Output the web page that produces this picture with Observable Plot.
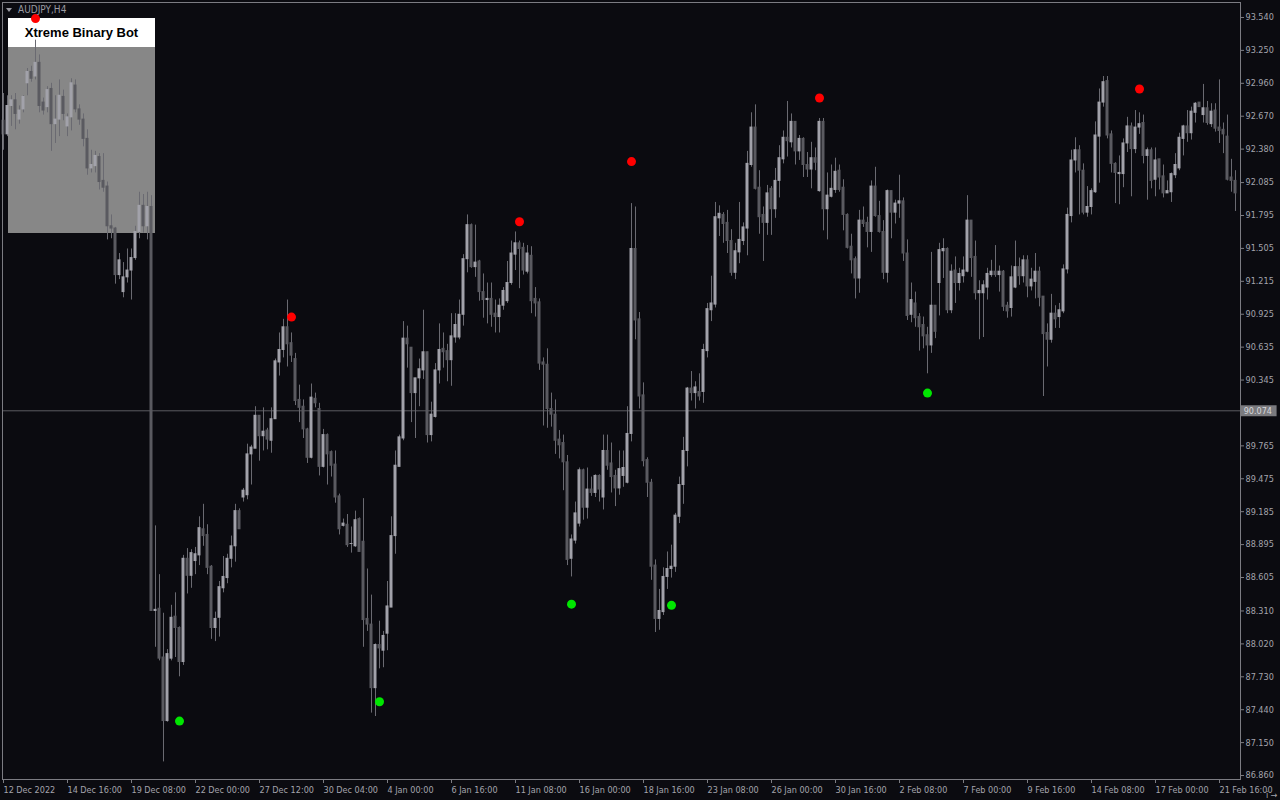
<!DOCTYPE html>
<html>
<head>
<meta charset="utf-8">
<script src="https://cdn.jsdelivr.net/npm/d3@7"></script>
<script src="https://cdn.jsdelivr.net/npm/@observablehq/plot@0.6"></script>
<style>
  html, body { margin: 0; padding: 0; background: #0b0b10; }
  #wrap { position: relative; width: 1280px; height: 800px; background: #0b0b10; overflow: hidden; }
  #wrap svg { position: absolute; left: 0; top: 0; z-index: 2; }
  .boxhead { position: absolute; left: 8px; top: 18px; width: 147px; height: 29px; background: #ffffff; z-index: 1;
    font: bold 13px "Liberation Sans", Arial, sans-serif; color: #000; text-align: center; line-height: 29px; }
  .boxbody { position: absolute; left: 8px; top: 47px; width: 147px; height: 186px; background: #878787; z-index: 1; }
  .title { position: absolute; left: 6px; top: 4px; z-index: 3; font: 10px "DejaVu Sans Condensed", "DejaVu Sans", sans-serif; color: #9a9aa2; }
  .tri { display: inline-block; width: 0; height: 0; border-left: 3px solid transparent; border-right: 3px solid transparent; border-top: 4px solid #9a9aa2; margin-right: 6px; vertical-align: 1px; }
</style>
</head>
<body>
<div id="wrap">
  <div class="title"><span class="tri"></span>AUDJPY,H4</div>
  <div class="boxhead">Xtreme Binary Bot</div>
  <div class="boxbody"></div>
</div>
<script>
// AUDJPY H4 candles, 12 Dec 2022 – 22 Feb 2023
const openP = [
92.63,92.51,92.76,92.81,92.64,92.73,92.96,93.06,93.02,93.14,
92.79,92.75,92.91,92.60,92.64,92.84,92.58,92.66,92.94,92.73,
92.64,92.47,92.21,92.23,92.31,92.10,92.05,91.70,91.68,91.27,
91.12,91.25,91.31,91.42,91.65,91.88,91.70,91.87,88.31,88.33,
87.90,87.34,87.89,88.26,88.16,87.86,88.77,88.62,88.75,88.80,
89.03,88.98,88.70,88.16,88.25,88.51,88.60,88.77,88.88,89.19,
89.31,89.33,89.69,89.74,90.03,89.85,89.90,89.81,90.00,90.50,
90.61,90.81,90.67,90.53,90.17,90.11,89.91,89.66,90.18,90.09,
89.58,89.86,89.71,89.60,89.32,89.06,89.07,88.90,88.88,89.12,
88.92,88.24,88.19,87.63,88.01,87.96,88.11,88.34,88.97,89.58,
89.83,90.71,90.63,90.23,90.36,90.43,90.59,89.86,90.02,90.43,
90.62,90.60,90.52,90.72,90.72,90.92,91.41,91.71,91.34,91.39,
91.12,91.05,91.06,90.93,90.90,91.00,91.04,91.20,91.45,91.55,
91.51,91.30,91.44,91.06,91.03,90.50,90.48,90.09,90.04,89.82,
89.79,89.62,88.77,88.93,89.08,89.55,89.22,89.38,89.35,89.50,
89.31,89.72,89.61,89.50,89.39,89.50,89.44,89.87,91.50,90.88,
90.21,89.64,89.44,88.71,88.24,88.30,88.61,88.68,88.70,89.14,
89.42,89.72,90.27,90.23,90.24,90.24,90.60,90.96,91.01,91.77,
91.80,91.73,91.57,91.29,91.47,91.57,91.68,92.24,92.57,92.04,
91.80,91.73,92.03,91.85,92.10,92.29,92.48,92.44,92.62,92.36,
92.47,92.24,92.20,92.30,92.01,92.62,91.85,91.96,92.02,92.19,
92.04,91.80,91.52,91.41,91.24,91.75,91.73,91.65,92.05,91.79,
91.65,91.29,92.01,91.82,91.90,91.92,91.46,90.92,91.02,90.90,
90.83,90.74,90.65,91.00,91.20,91.48,91.50,90.96,91.31,91.20,
91.26,91.30,91.75,91.43,91.11,91.11,91.16,91.27,91.30,91.27,
91.30,91.00,90.98,91.16,91.34,91.26,91.40,91.17,91.21,91.30,
91.08,90.76,90.70,90.93,90.90,90.95,91.32,91.79,92.28,92.37,
92.19,91.82,91.87,92.00,92.49,92.79,92.98,92.51,92.25,92.16,
92.16,92.43,92.58,92.38,92.57,92.61,92.32,92.37,92.11,92.29,
92.14,91.99,92.00,92.15,92.21,92.47,92.58,92.52,92.70,92.79,
92.68,92.74,92.60,92.72,92.57,92.55,92.49,92.13,92.10];

const highP = [
92.87,92.85,92.85,92.87,92.76,92.85,93.09,93.11,93.34,93.21,
92.83,92.93,92.96,92.85,92.99,92.90,92.69,93.00,92.99,92.77,
92.69,92.55,92.37,92.36,92.34,92.34,92.09,91.80,91.69,91.46,
91.38,91.50,91.50,91.70,92.00,91.98,92.00,91.97,89.06,88.63,
88.29,87.97,88.36,88.47,88.17,88.80,88.86,88.85,88.87,89.14,
89.25,89.07,88.71,88.30,88.57,88.79,88.81,88.97,89.25,89.21,
89.39,89.78,89.77,90.11,90.03,90.10,89.92,90.10,90.53,90.76,
90.88,91.05,90.76,90.58,90.30,90.17,89.92,90.31,90.23,90.14,
89.91,89.87,89.72,89.72,89.34,89.12,89.16,89.05,89.19,89.13,
89.30,88.68,88.45,88.02,88.22,88.13,88.57,89.14,89.72,89.86,
90.86,90.82,90.63,90.36,90.53,90.96,90.59,90.15,90.49,90.84,
90.76,90.66,90.93,90.93,91.05,91.45,91.80,91.72,91.71,91.40,
91.28,91.20,91.20,91.05,91.06,91.16,91.39,91.57,91.65,91.57,
91.55,91.53,91.52,91.16,91.06,90.54,90.62,90.23,90.17,89.90,
89.86,89.68,88.98,89.27,89.57,89.56,89.57,89.49,89.51,89.51,
89.86,89.86,89.79,89.55,89.72,89.72,90.11,91.90,91.87,90.94,
90.32,89.66,89.47,88.76,88.50,88.69,88.83,88.89,89.17,89.49,
89.84,90.28,90.42,90.33,90.40,90.66,91.02,91.26,91.91,91.88,
91.82,91.84,91.67,91.55,91.91,91.73,92.36,92.70,92.77,92.19,
91.87,92.06,92.05,92.21,92.41,92.54,92.80,92.69,92.62,92.50,
92.48,92.35,92.44,92.39,92.65,92.65,92.17,92.24,92.30,92.24,
92.11,91.81,91.63,91.43,91.84,91.87,91.78,92.10,92.22,91.92,
91.75,92.02,92.01,91.93,92.15,91.95,91.58,91.20,91.12,90.93,
90.90,90.81,91.47,91.00,91.55,91.59,91.51,91.36,91.43,91.33,
91.43,91.97,91.75,91.57,91.22,91.22,91.33,91.40,91.53,91.35,
91.31,91.03,91.35,91.57,91.42,91.44,91.44,91.33,91.46,91.34,
91.08,90.84,91.10,91.00,91.02,91.36,91.86,92.37,92.48,92.41,
92.25,92.05,92.03,92.62,92.91,93.02,93.02,92.54,92.26,92.32,
92.47,92.66,92.61,92.72,92.70,92.68,92.39,92.39,92.39,92.29,
92.24,92.10,92.17,92.34,92.52,92.59,92.72,92.75,92.79,92.79,
92.95,92.80,92.78,92.78,92.99,92.61,92.68,92.29,92.19];

const lowP = [
92.37,92.49,92.58,92.55,92.60,92.70,92.85,92.97,92.99,92.70,
92.68,92.70,92.36,92.43,92.49,92.63,92.49,92.54,92.70,92.59,
92.40,92.15,92.17,92.17,92.02,92.00,91.58,91.59,91.19,91.23,
91.07,91.20,91.05,91.40,91.59,91.64,91.58,88.31,87.99,87.87,
86.98,87.33,87.87,87.90,87.73,87.83,88.46,88.51,88.63,88.71,
88.88,88.63,88.06,88.04,88.08,88.47,88.55,88.69,88.74,89.03,
89.27,89.29,89.42,89.74,89.63,89.72,89.73,89.70,90.00,90.38,
90.54,90.46,90.50,90.12,89.97,89.83,89.61,89.65,90.10,89.50,
89.57,89.42,89.49,89.26,88.98,89.05,88.87,88.82,88.87,88.83,
87.99,88.13,87.41,87.38,87.80,87.81,87.96,88.34,88.81,89.58,
89.81,90.45,89.97,89.83,90.11,90.35,89.79,89.80,90.01,90.31,
90.45,90.33,90.29,90.67,90.70,90.82,91.29,91.33,91.25,91.04,
90.89,90.84,90.81,90.76,90.76,90.96,91.02,91.18,91.31,91.15,
91.27,91.28,90.93,90.90,90.43,89.94,89.92,89.93,89.69,89.65,
89.37,88.71,88.61,88.90,89.05,89.11,89.12,89.32,89.31,89.27,
89.20,89.55,89.35,89.23,89.33,89.40,89.43,89.80,90.70,90.09,
89.58,89.31,88.58,88.12,88.14,88.27,88.50,88.60,88.65,89.08,
89.25,89.58,90.16,90.09,90.16,90.14,90.54,90.86,90.98,91.61,
91.55,91.46,91.26,91.23,91.37,91.53,91.44,92.22,92.02,91.63,
91.39,91.62,91.62,91.77,91.95,92.25,92.31,92.39,92.24,92.28,
92.13,92.13,92.03,92.19,92.00,91.66,91.58,91.95,91.99,92.00,
91.66,91.50,91.28,91.06,91.11,91.69,91.51,91.47,91.78,91.64,
91.23,91.20,91.59,91.72,91.77,91.39,90.87,90.85,90.81,90.60,
90.62,90.40,90.58,90.71,90.91,91.24,90.93,90.93,91.02,91.13,
91.20,91.29,91.25,91.05,90.70,90.72,91.05,91.25,91.25,91.12,
90.95,90.89,90.90,91.15,91.18,91.20,91.07,91.13,91.06,90.99,
90.20,90.46,90.67,90.80,90.80,90.93,91.28,91.73,92.17,91.80,
91.80,91.78,91.80,91.99,92.08,92.75,92.47,92.17,91.90,91.89,
92.04,92.35,91.96,92.34,92.51,92.25,91.93,92.03,91.96,92.02,
91.95,91.99,91.91,92.12,92.19,92.32,92.44,92.46,92.61,92.75,
92.61,92.59,92.57,92.53,92.43,92.34,92.10,92.00,91.83];

const closeP = [
92.51,92.76,92.81,92.69,92.72,92.84,93.06,93.00,93.14,92.76,
92.72,92.90,92.60,92.64,92.85,92.69,92.66,92.96,92.73,92.64,
92.47,92.21,92.24,92.32,92.09,92.04,91.70,91.68,91.27,91.40,
91.25,91.31,91.42,91.65,91.88,91.70,91.87,88.31,88.32,87.89,
87.34,87.93,88.25,88.16,87.86,88.77,88.62,88.82,88.81,89.04,
88.97,88.69,88.16,88.24,88.52,88.61,88.77,88.88,89.19,89.03,
89.37,89.69,89.75,90.03,89.85,89.89,89.82,90.00,90.51,90.61,
90.81,90.66,90.56,90.16,90.10,89.91,89.66,90.19,90.14,89.58,
89.86,89.69,89.59,89.31,89.03,89.08,88.89,88.90,89.11,88.83,
88.23,88.19,87.63,88.01,87.98,88.09,88.35,88.97,89.59,89.84,
90.71,90.66,90.23,90.36,90.44,90.59,89.86,90.04,90.43,90.61,
90.59,90.52,90.73,90.83,90.92,91.41,91.71,91.34,91.38,91.12,
91.05,91.06,90.92,90.90,91.00,91.13,91.20,91.46,91.55,91.50,
91.31,91.46,91.04,91.02,90.49,90.48,90.09,90.04,89.81,89.77,
89.62,88.76,88.94,89.17,89.55,89.22,89.38,89.35,89.50,89.38,
89.72,89.59,89.49,89.39,89.56,89.57,89.87,91.50,90.87,90.20,
89.63,89.44,88.70,88.24,88.31,88.61,88.68,88.70,89.15,89.42,
89.72,90.27,90.23,90.28,90.20,90.61,90.97,91.02,91.78,91.81,
91.72,91.57,91.29,91.48,91.58,91.69,92.25,92.57,92.03,91.78,
91.73,91.99,91.85,92.10,92.30,92.48,92.45,92.62,92.36,92.47,
92.24,92.20,92.30,92.26,92.62,91.85,91.97,92.03,92.18,92.02,
91.80,91.51,91.40,91.24,91.75,91.72,91.65,92.05,91.79,91.65,
91.29,92.01,91.82,91.90,91.92,91.46,90.91,91.05,90.89,90.81,
90.73,90.65,91.00,90.77,91.49,91.50,90.96,91.30,91.20,91.28,
91.31,91.75,91.42,91.11,91.13,91.18,91.28,91.30,91.27,91.30,
90.99,90.95,91.25,91.34,91.26,91.40,91.17,91.23,91.30,91.07,
90.75,90.70,90.93,90.88,90.96,91.32,91.80,92.28,92.37,92.19,
91.82,91.87,92.01,92.50,92.79,92.97,92.50,92.25,92.17,92.17,
92.43,92.58,92.38,92.57,92.60,92.32,92.37,92.10,92.28,92.13,
91.99,92.01,92.16,92.24,92.48,92.58,92.52,92.71,92.78,92.75,
92.74,92.61,92.71,92.56,92.54,92.51,92.11,92.10,91.99];

// Indicator signals (bar index, price)
const sellBars = [8, 72, 129, 157, 204, 284];
const sellPrices = [93.53, 90.90, 91.74, 92.27, 92.83, 92.91];
const buyBars = [44, 94, 142, 167, 231];
const buyPrices = [87.34, 87.51, 88.37, 88.36, 90.23];

// Axis labels
const xTickBars = [0,16,32,48,64,80,96,112,128,144,160,176,192,208,224,240,256,272,288,304];
const xTickLabels = ["12 Dec 2022","14 Dec 16:00","19 Dec 08:00","22 Dec 00:00","27 Dec 12:00","30 Dec 04:00",
  "4 Jan 00:00","6 Jan 16:00","11 Jan 08:00","16 Jan 00:00","18 Jan 16:00","23 Jan 08:00","26 Jan 00:00",
  "30 Jan 16:00","2 Feb 08:00","7 Feb 00:00","9 Feb 16:00","14 Feb 08:00","17 Feb 00:00","21 Feb 16:00"];
const yTicks = [93.540,93.250,92.960,92.670,92.380,92.085,91.795,91.505,91.215,90.925,90.635,90.345,
  89.765,89.475,89.185,88.895,88.605,88.310,88.020,87.730,87.440,87.150,86.860];
const bidPrice = 90.074;

const n = Math.min(openP.length, highP.length, lowP.length, closeP.length);
const bars = d3.range(n).map(i => ({i, open: openP[i], high: highP[i], low: lowP[i], close: closeP[i]}));
const sells = sellBars.map((b, k) => ({i: b, price: sellPrices[k]}));
const buys = buyBars.map((b, k) => ({i: b, price: buyPrices[k]}));

const bullColor = "#a2a2aa", bearColor = "#5a5a60", wickColor = "#6a6a71";
const axisColor = "#7c7c82", textColor = "#a4a4ac";

const chart = Plot.plot({
  width: 1280, height: 800,
  marginLeft: 2, marginRight: 40, marginTop: 2, marginBottom: 21,
  style: {background: "transparent", color: textColor, fontFamily: "'DejaVu Sans Condensed','DejaVu Sans',sans-serif", fontSize: "9px", overflow: "visible"},
  x: {type: "linear", domain: [-0.25, 309.25]},
  y: {type: "linear", domain: [86.825, 93.672]},
  marks: [
    Plot.ruleY([bidPrice], {stroke: "#5c5c62", strokeWidth: 1}),
    Plot.ruleX(bars, {x: "i", y1: "low", y2: "high", stroke: wickColor, strokeWidth: 1}),
    Plot.rect(bars, {x1: d => d.i - 0.375, x2: d => d.i + 0.375, y1: "open", y2: "close",
      fill: d => d.close >= d.open ? bullColor : bearColor, insetTop: -0.5, insetBottom: -0.5}),
    Plot.dot(sells, {x: "i", y: "price", r: 4.5, fill: "#ff0000", stroke: "none"}),
    Plot.dot(buys, {x: "i", y: "price", r: 4.5, fill: "#00e600", stroke: "none"}),
    Plot.frame({stroke: axisColor}),
    Plot.axisY({anchor: "right", ticks: yTicks, tickFormat: d => d.toFixed(3), tickSize: 3, tickPadding: 2, stroke: axisColor, fill: textColor}),
    Plot.axisX({anchor: "bottom", ticks: xTickBars, tickFormat: d => xTickLabels[xTickBars.indexOf(d)], tickSize: 4, tickPadding: 3, textAnchor: "start", dx: 0, stroke: axisColor, fill: textColor}),
    Plot.ruleY([bidPrice], {x1: 309.3, x2: 318.4, stroke: "#7a7a7e", strokeWidth: 11}),
    Plot.text([bidPrice], {x: 309.3, y: d => d, text: d => d.toFixed(3), textAnchor: "start", dx: 3, fill: "#d8d8dc"})
  ]
});
document.getElementById("wrap").appendChild(chart);
</script>
</body>
</html>
